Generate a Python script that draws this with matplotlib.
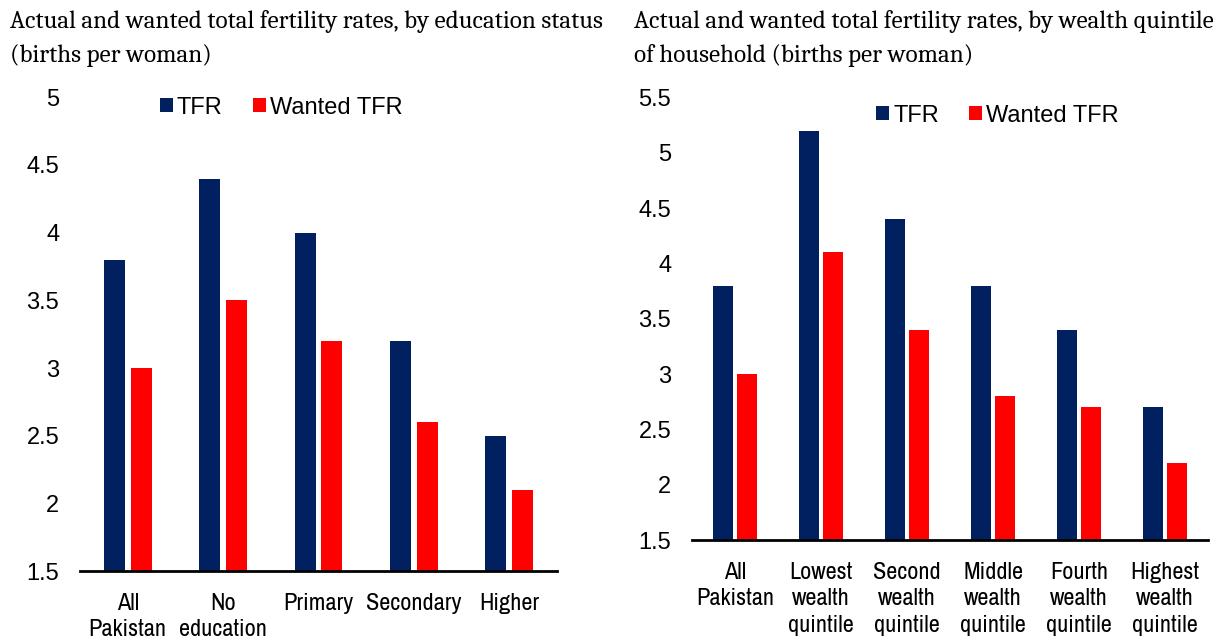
import matplotlib
matplotlib.use("Agg")
import matplotlib.pyplot as plt
import numpy as np

# left panel - by education
edu_labels = ["All\nPakistan", "No\neducation", "Primary", "Secondary", "Higher"]
edu_tfr = [3.8, 4.4, 4.0, 3.2, 2.5]
edu_wanted = [3.0, 3.5, 3.2, 2.6, 2.1]

# right panel - by wealth quintile
wealth_labels = ["All\nPakistan", "Lowest\nwealth\nquintile", "Second\nwealth\nquintile",
                 "Middle\nwealth\nquintile", "Fourth\nwealth\nquintile", "Highest\nwealth\nquintile"]
wealth_tfr = [3.8, 5.2, 4.4, 3.8, 3.4, 2.7]
wealth_wanted = [3.0, 4.1, 3.4, 2.8, 2.7, 2.2]

NAVY = "#002060"
RED = "#ff0000"
SANS = ["Liberation Sans", "DejaVu Sans"]
NARROW = ["Archivo Narrow", "Roboto Condensed", "DejaVu Sans"]
TITLE_FONT = ["Caladea", "Liberation Serif", "DejaVu Serif"]

fig = plt.figure(figsize=(12.19, 6.39), dpi=100)
fig.patch.set_facecolor("white")


def draw_panel(rect, labels, tfr, wanted, ylim, yticks, leg_x, leg_y, width):
    ax = fig.add_axes(rect)
    x = np.arange(len(labels))
    ax.bar(x - 0.14, tfr, width, color=NAVY, label="TFR")
    ax.bar(x + 0.14, wanted, width, color=RED, label="Wanted TFR")
    ax.set_xlim(-0.5, len(labels) - 0.5)
    ax.set_ylim(*ylim)
    ax.set_yticks(yticks)
    ax.set_yticklabels(["%g" % v for v in yticks], family=SANS, fontsize=17)
    ax.set_xticks(x)
    ax.set_xticklabels(labels, family=NARROW, fontsize=17.5, linespacing=1.33, va="top")
    ax.tick_params(axis="y", length=0, pad=15)
    ax.tick_params(axis="x", length=0, pad=15.5)
    for s in ["left", "right", "top"]:
        ax.spines[s].set_visible(False)
    ax.spines["bottom"].set_linewidth(2)
    ax.spines["bottom"].set_color("black")
    ax.legend(loc="center left", bbox_to_anchor=(leg_x, leg_y), ncol=2, frameon=False,
              borderpad=0, borderaxespad=0, handlelength=0.55, handleheight=0.55,
              handletextpad=0.17, columnspacing=1.3,
              prop={"family": SANS, "size": 17})
    return ax


draw_panel([0.0656, 0.1064, 0.3913, 0.7413], edu_labels, edu_tfr, edu_wanted,
           (1.5, 5), [1.5, 2, 2.5, 3, 3.5, 4, 4.5, 5], 0.1677, 0.9785, 0.22)
draw_panel([0.5677, 0.1549, 0.4233, 0.6925], wealth_labels, wealth_tfr, wealth_wanted,
           (1.5, 5.5), [1.5, 2, 2.5, 3, 3.5, 4, 4.5, 5, 5.5], 0.3566, 0.959, 0.227)

# titles, two lines each (baselines)
title_left = ["Actual and wanted total fertility rates, by education status", "(births per woman)"]
title_right = ["Actual and wanted total fertility rates, by wealth quintile", "of household (births per woman)"]
for x0, lines in [(10, title_left), (634, title_right)]:
    for y0, line in zip([28, 62], lines):
        fig.text(x0 / 1219, 1 - y0 / 639, line, family=TITLE_FONT, fontsize=18,
                 va="baseline", ha="left")

fig.savefig("out.png", dpi=100)
